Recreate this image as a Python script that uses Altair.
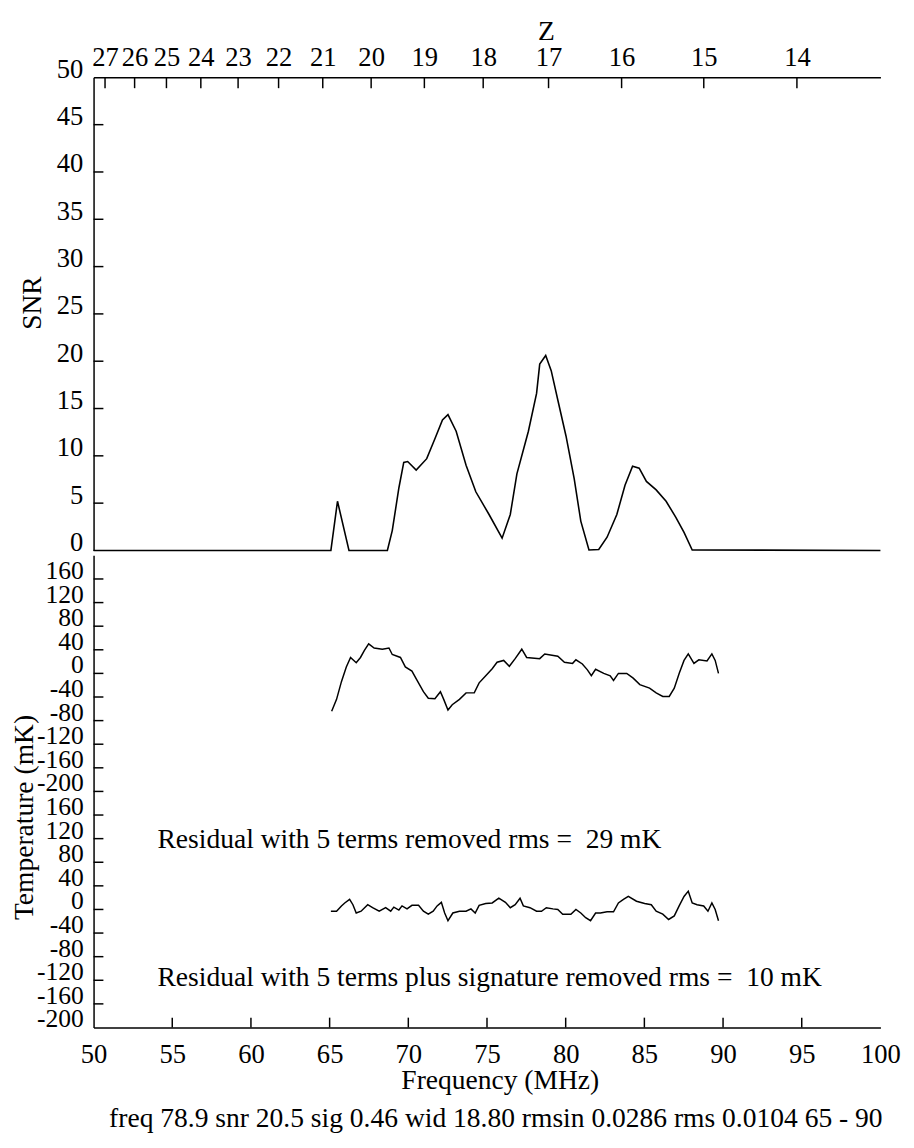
import altair as alt
import pandas as pd

FONT = "Liberation Serif"
FS = 27      # tick labels
FS_T = 26    # temperature tick labels (densely packed)
FT = 28      # titles and annotations

# ---------------- data ----------------
freq_ticks = [55, 60, 65, 70, 75, 80, 85, 90, 95]
freq_labels = [50, 55, 60, 65, 70, 75, 80, 85, 90, 95, 100]
z_labels = [27, 26, 25, 24, 23, 22, 21, 20, 19, 18, 17, 16, 15, 14]
snr_labels = [0, 5, 10, 15, 20, 25, 30, 35, 40, 45, 50]
snr_ticks = [5, 10, 15, 20, 25, 30, 35, 40, 45]
temp_block_ticks = [-200, -160, -120, -80, -40, 0, 40, 80, 120, 160]
block_offset = 200  # each temperature block spans -200..200 mK

snr_freq = [50.0, 65.08, 65.5, 66.23, 68.67, 68.98, 69.4, 69.71, 69.96, 70.5, 71.17, 71.69,
            72.17, 72.52, 73.04, 73.67, 74.29, 75.13, 75.96, 76.48, 76.9, 77.63, 78.15,
            78.35, 78.73, 79.08, 79.5, 80.02, 80.54, 80.96, 81.48, 82.1, 82.63, 83.25,
            83.77, 84.25, 84.67, 85.13, 85.75, 86.38, 87.0, 87.52, 88.04, 100.0]
snr_vals = [0.0, 0.0, 5.2, 0.0, 0.0, 2.1, 6.6, 9.3, 9.4, 8.5, 9.7, 11.8,
            13.8, 14.35, 12.6, 9.0, 6.2, 3.8, 1.3, 3.8, 8.1, 12.6, 16.6,
            19.7, 20.6, 19.0, 15.9, 12.1, 7.6, 3.1, 0.05, 0.1, 1.4, 3.8,
            6.9, 8.9, 8.7, 7.3, 6.4, 5.2, 3.5, 1.9, 0.05, 0.0]

res5_freq = [65.13, 65.44, 65.75, 66.06, 66.33, 66.69, 66.96, 67.21, 67.48, 67.83, 68.35,
             68.77, 68.98, 69.5, 69.81, 70.23, 70.54, 70.96, 71.27, 71.69, 72.04, 72.25,
             72.52, 72.79, 73.25, 73.67, 74.19, 74.5, 74.92, 75.33, 75.64, 76.06, 76.42,
             76.79, 77.21, 77.52, 78.35, 78.67, 79.5, 79.92, 80.44, 80.65, 81.06, 81.38,
             81.63, 81.9, 82.42, 82.83, 83.04, 83.35, 83.88, 84.29, 84.71, 85.33, 85.75,
             86.17, 86.58, 86.9, 87.21, 87.52, 87.79, 88.15, 88.46, 88.98, 89.29, 89.5, 89.71]
res5_vals = [-64, -44, -14, 11, 27, 18, 27, 39, 50, 43, 41,
             43, 32, 27, 11, 4, -11, -31, -42, -43, -31, -44,
             -62, -53, -44, -33, -33, -16, -4, 8, 19, 22, 12,
             25, 41, 27, 25, 33, 29, 19, 17, 23, 16, 6,
             -4, 7, 0, -4, -12, 0, 0, -8, -19, -25, -33,
             -39, -39, -25, 0, 22, 33, 17, 23, 21, 33, 22, 0]

res5s_freq = [65.08, 65.44, 65.75, 65.96, 66.27, 66.48, 66.69, 67.0, 67.42, 67.73, 68.15,
              68.56, 68.88, 69.08, 69.4, 69.6, 69.92, 70.23, 70.65, 70.96, 71.27, 71.58,
              71.83, 72.1, 72.31, 72.52, 72.83, 73.25, 73.67, 73.98, 74.25, 74.5, 74.92,
              75.33, 75.75, 76.17, 76.48, 76.79, 77.1, 77.31, 77.73, 78.15, 78.46, 78.77,
              79.19, 79.5, 79.81, 80.33, 80.65, 80.96, 81.27, 81.58, 81.9, 82.21, 82.63,
              83.04, 83.35, 83.67, 83.98, 84.5, 85.02, 85.44, 85.75, 86.17, 86.54, 86.9,
              87.21, 87.52, 87.79, 88.04, 88.35, 88.77, 89.04, 89.29, 89.5, 89.71]
res5s_vals = [-3, -3, 6, 11, 17, 8, -6, -3, 8, 3, -3,
              3, -3, 4, -1, 6, 1, 7, 7, -3, -8, -3,
              6, 12, -6, -19, -6, -3, -3, 1, -6, 7, 10,
              11, 19, 12, 3, 8, 19, 6, 3, -3, -3, 3,
              1, 0, -8, -8, 0, -6, -14, -19, -6, -6, -4,
              -4, 11, 17, 22, 14, 10, 8, -3, -8, -17, -11,
              6, 22, 31, 11, 8, 6, -3, 11, 0, -19]

label_top = "Residual with 5 terms removed rms =\u00a0 29 mK"
label_bottom = "Residual with 5 terms plus signature removed rms =\u00a0 10 mK"
footer = "freq 78.9 snr 20.5 sig 0.46 wid 18.80 rmsin 0.0286 rms 0.0104 65 - 90"

# ---------------- tables ----------------
z_freqs = [1420.4 / (1 + z) for z in z_labels]

snr_df = pd.DataFrame({"f": snr_freq, "snr": snr_vals})
snr_tick_df = pd.DataFrame({"snr": snr_ticks})
z_tick_df = pd.DataFrame({"f": z_freqs})

temp_df = pd.concat([
    pd.DataFrame({"f": res5_freq, "t": [v + block_offset for v in res5_vals], "s": "a"}),
    pd.DataFrame({"f": res5s_freq, "t": [v - block_offset for v in res5s_vals], "s": "b"}),
])
temp_label_df = pd.DataFrame({
    "t": [v + block_offset for v in temp_block_ticks] + [v - block_offset for v in temp_block_ticks],
    "label": [str(v) for v in temp_block_ticks] * 2,
})
temp_tick_df = pd.DataFrame({"t": [v for v in temp_label_df["t"] if -400 < v < 400]})
f_tick_df = pd.DataFrame({"f": freq_ticks})

W = 800
H1 = 481
H2 = 480

xscale = alt.Scale(domain=[50, 100], nice=False, zero=False)

# ---------------- top panel ----------------
snr_line = alt.Chart(snr_df).mark_line(color="black", strokeWidth=1.6).encode(
    x=alt.X("f:Q", scale=xscale,
            axis=alt.Axis(orient="top", values=z_freqs,
                          labelExpr="round(1420.4 / datum.value - 1)",
                          title="Z", titleX=460, titleY=-60, titleBaseline="top",
                          titleAnchor="start", titleAlign="center", titleFontSize=FT,
                          ticks=False, tickSize=0, labelPadding=12, labelBaseline="alphabetic",
                          labelOverlap=False, labelFlush=False, grid=False,
                          domainColor="black", domainWidth=1.5)),
    y=alt.Y("snr:Q", scale=alt.Scale(domain=[0, 50], nice=False),
            axis=alt.Axis(values=snr_labels,
                          title="SNR", titleX=-54, titleY=229, titleAngle=-90,
                          titleBaseline="alphabetic", titleAlign="center", titleFontSize=FT,
                          ticks=False, tickSize=0, labelPadding=11,
                          labelBaseline="alphabetic", labelOverlap=False, labelFlush=False,
                          grid=False, domainColor="black", domainWidth=1.5)),
)
snr_left_ticks = alt.Chart(snr_tick_df).mark_rule(color="black", strokeWidth=1.5).encode(
    y="snr:Q", x=alt.value(0), x2=alt.value(10))
snr_top_ticks = alt.Chart(z_tick_df).mark_rule(color="black", strokeWidth=1.5).encode(
    x="f:Q", y=alt.value(0), y2=alt.value(11))

top = alt.layer(snr_line, snr_left_ticks, snr_top_ticks).properties(width=W, height=H1)

# ---------------- bottom panel ----------------
temp_lines = alt.Chart(temp_df).mark_line(color="black", strokeWidth=1.5).encode(
    x=alt.X("f:Q", scale=xscale,
            axis=alt.Axis(orient="bottom", values=freq_labels,
                          format="d", title="Frequency (MHz)", titleX=413, titleY=62,
                          titleBaseline="alphabetic", titleAnchor="start", titleAlign="center",
                          titleFontSize=FT,
                          ticks=False, tickSize=0, labelPadding=36, labelBaseline="alphabetic",
                          labelOverlap=False, labelFlush=False, grid=False,
                          domainColor="black", domainWidth=1.5)),
    y=alt.Y("t:Q", scale=alt.Scale(domain=[-400, 400], nice=False),
            axis=alt.Axis(labels=False, ticks=False, tickSize=0,
                          title="Temperature (mK)", titleX=-62, titleY=266, titleAngle=-90,
                          titleBaseline="alphabetic", titleAlign="center", titleFontSize=FT,
                          grid=False, domainColor="black", domainWidth=1.5)),
    detail="s:N",
)
temp_left_labels = alt.Chart(temp_label_df).mark_text(
    align="right", baseline="alphabetic", font=FONT, fontSize=FS_T, color="black").encode(
    y="t:Q", text="label:N", x=alt.value(-10))
temp_left_ticks = alt.Chart(temp_tick_df).mark_rule(color="black", strokeWidth=1.5).encode(
    y="t:Q", x=alt.value(0), x2=alt.value(10))
freq_bottom_ticks = alt.Chart(f_tick_df).mark_rule(color="black", strokeWidth=1.5).encode(
    x="f:Q", y=alt.value(H2), y2=alt.value(H2 - 10))

txt1 = alt.Chart(pd.DataFrame({"label": [label_top]})).mark_text(
    align="left", baseline="middle", font=FONT, fontSize=FT, color="black").encode(
    text="label:N", x=alt.value(65), y=alt.value(290))
txt2 = alt.Chart(pd.DataFrame({"label": [label_bottom]})).mark_text(
    align="left", baseline="middle", font=FONT, fontSize=FT, color="black").encode(
    text="label:N", x=alt.value(65), y=alt.value(430))
txt3 = alt.Chart(pd.DataFrame({"label": [footer]})).mark_text(
    align="center", baseline="alphabetic", font=FONT, fontSize=FT, color="black").encode(
    text="label:N", x=alt.value(409), y=alt.value(581))

bottom = alt.layer(temp_lines, temp_left_labels, temp_left_ticks, freq_bottom_ticks,
                   txt1, txt2, txt3).properties(width=W, height=H2)

chart = alt.vconcat(top, bottom, spacing=0).properties(
    background="white",
    padding={"top": 1, "left": 3, "right": 5, "bottom": 5},
).configure_view(strokeWidth=0).configure_axis(
    labelFont=FONT, titleFont=FONT, labelFontSize=FS, titleFontSize=FT,
    labelColor="black", titleColor="black", titleFontWeight="normal",
    labelOverlap=False,
)

chart.save("out.html", embed_options={"renderer": "svg", "actions": False})
